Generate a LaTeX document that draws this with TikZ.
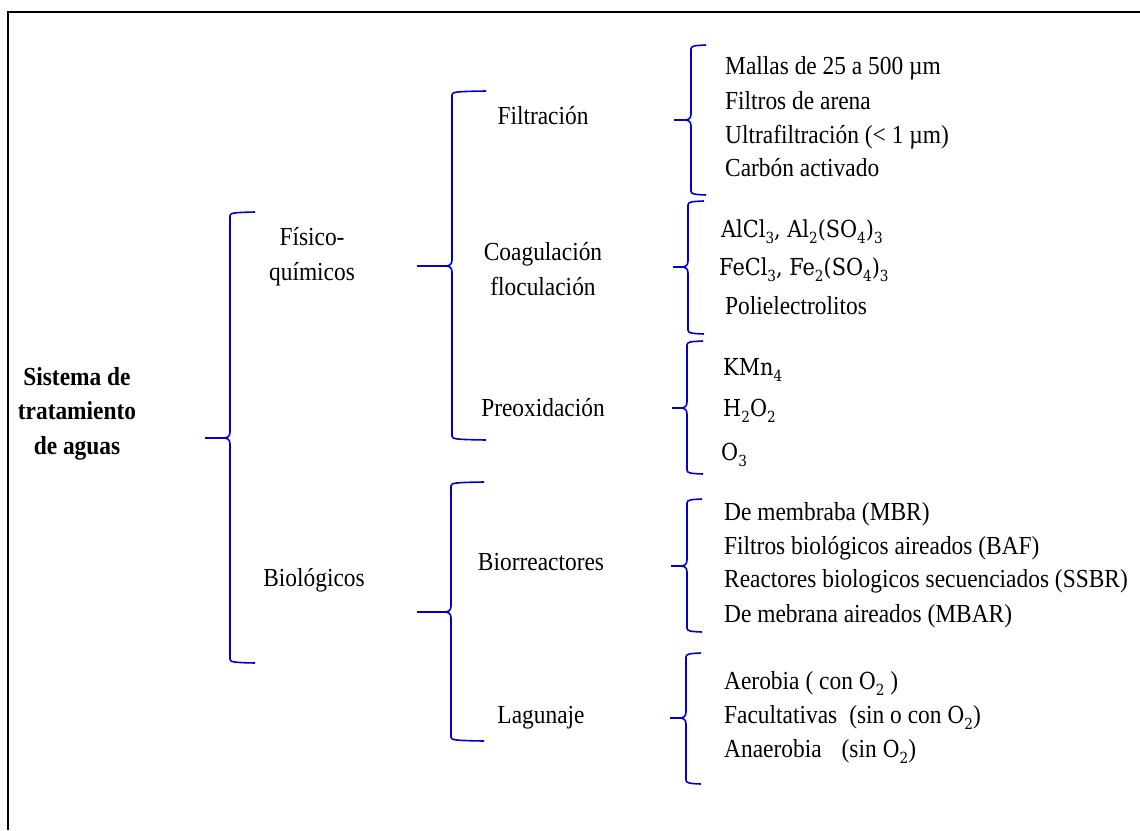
\documentclass[tikz,border=0pt]{standalone}
\usepackage{fontspec}
\setmainfont{Liberation Serif}[FakeStretch=0.9]
\newfontfamily\formula{DejaVu Serif}[Scale=0.9, FakeStretch=0.89]
\usepackage{tikz}
\usetikzlibrary{positioning}
\definecolor{azul}{RGB}{0,0,210}
\newcommand{\letra}{\fontsize{26}{34.5}\selectfont}
\newcommand{\subi}[1]{\raisebox{-0.5ex}{\fontsize{17}{17}\selectfont #1}}
\tikzset{
    titulo/.style = {font=\letra\bfseries, align=center, inner sep=0pt, text height=17pt, text depth=1pt},
    grupo/.style = {font=\letra, align=center, inner sep=0pt, text height=17pt, text depth=1pt},
    item/.style = {font=\letra, anchor=west, inner sep=0pt, text height=17pt, text depth=1pt},
    llave/.style = {draw=azul, line width=1.6pt},
    marco/.style = {draw=black, line width=1.8pt},
    pics/corchete/.style n args = {4}{code={
        \draw[llave] (#1+#4,-#2-1) .. controls (#1+3,-#2-0.5) and (#1,-#2) .. (#1,-#2+3)
            -- (#1,-6) .. controls (#1,-1) and (#1-3,0) .. (#1-7,0) -- (0,0)
            (#1-7,0) .. controls (#1-3,0) and (#1,1) .. (#1,6)
            -- (#1,#3-3) .. controls (#1,#3) and (#1+3,#3+0.5) .. (#1+#4,#3+1);
    }}
}
\begin{document}
\begin{tikzpicture}[x=1pt, y=-1pt]
\useasboundingbox (0,0) rectangle (1140,830);
\draw[marco] (8,830) -- (8,12) -- (1140,12);

\node (sistema) [titulo] at (77,446) {Sistema de\\tratamiento\\de aguas};
\pic at (205,438) {corchete={25}{225}{224}{25}};

\node (fisico) [grupo] at (312,272) {Físico-\\químicos};
\node (biologico) [grupo] at (314,578) {Biológicos};

\pic at (417,266) {corchete={35}{174}{173}{34}};
\node (filtracion) [grupo] at (543,116) {Filtración};
\node (coagulacion) [grupo] at (543,287) {Coagulación\\floculación};
\node (preoxidacion) [grupo] at (543,408) {Preoxidación};

\pic at (417,612) {corchete={34}{129}{128}{33}};
\node (biorreactores) [grupo] at (541,562) {Biorreactores};
\node (lagunaje) [grupo] at (541,715) {Lagunaje};

\pic at (674,120) {corchete={17}{74}{74}{15}};
\node (f1) [item] at (725,66) {Mallas de 25 a 500 µm};
\node (f2) [item] at (725,101) {Filtros de arena};
\node (f3) [item] at (725,135) {Ultrafiltración (< 1 µm)};
\node (f4) [item] at (725,168) {Carbón activado};

\pic at (673,267) {corchete={15}{65}{66}{16}};
\node (c1) [item] at (721,229) {\formula AlCl\subi{3}, Al\subi{2}(SO\subi{4})\subi{3}};
\node (c2) [item] at (719,267) {\formula FeCl\subi{3}, Fe\subi{2}(SO\subi{4})\subi{3}};
\node (c3) [item] at (725,306) {Polielectrolitos};

\pic at (672,408) {corchete={15}{66}{65}{16}};
\node (p1) [item] at (723,367) {\formula KMn\subi{4}};
\node (p2) [item] at (723,408) {\formula H\subi{2}O\subi{2}};
\node (p3) [item] at (721,452) {\formula O\subi{3}};

\pic at (671,566) {corchete={16}{66}{65}{15}};
\node (b1) [item] at (724,512) {De membraba (MBR)};
\node (b2) [item] at (724,546) {Filtros biológicos aireados (BAF)};
\node (b3) [item] at (724,579) {Reactores biologicos secuenciados (SSBR)};
\node (b4) [item] at (724,614) {De mebrana aireados (MBAR)};

\pic at (670,718) {corchete={16}{64}{65}{15}};
\node (l1) [item] at (724,681) {Aerobia\hspace{6pt}( con {\formula O\subi{2}} )};
\node (l2) [item] at (724,715) {Facultativas\hspace{12pt}(sin o con {\formula O\subi{2}})};
\node (l3) [item] at (724,749) {Anaerobia\hspace{20pt}(sin {\formula O\subi{2}})};
\end{tikzpicture}
\end{document}
